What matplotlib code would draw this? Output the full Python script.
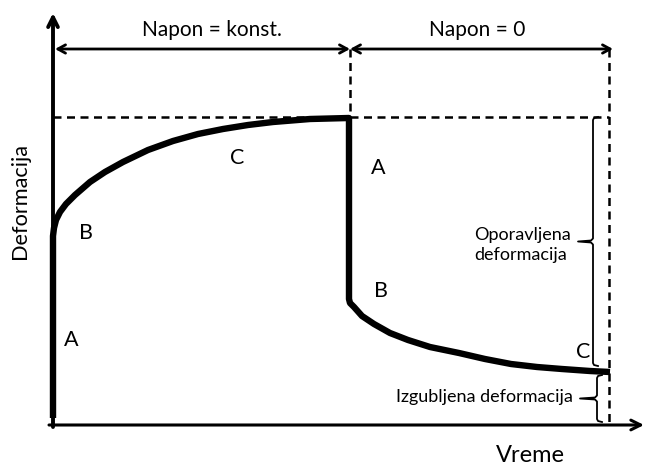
import matplotlib
matplotlib.use("Agg")
import matplotlib.pyplot as plt

plt.rcParams['font.family'] = ['Lato', 'DejaVu Sans']

# Creep phase (constant stress): time, deformation
creep_t = [0, 0, 1, 3, 7, 13, 22, 37, 52, 70, 95, 120, 145, 170, 195, 220, 257, 296]
creep_d = [7, 189, 197, 205, 213, 221, 230, 243, 253, 263, 275, 284, 291, 296, 300, 303, 306, 307]
# Recovery phase (zero stress)
rec_t = [296, 296, 297, 301, 309, 321, 337, 355, 377, 406, 432, 458, 484, 509, 537, 557]
rec_d = [307, 126, 122, 118, 109, 101, 92, 85, 78, 72, 66, 61, 58, 56, 54, 53]

t_unload = 296
t_end = 556
d_max = max(creep_d)
d_perm = rec_d[-1]

phase_labels = ["Napon = konst.", "Napon = 0"]
stage_labels = ["A", "B", "C"]
xlabel = "Vreme"
ylabel = "Deformacija"
recovered_label = "Oporavljena\ndeformacija"
lost_label = "Izgubljena deformacija"

fig = plt.figure(figsize=(6.45, 4.68), dpi=100)
ax = fig.add_axes([0, 0, 1, 1])
ax.set_xlim(-53, 592)
ax.set_ylim(-43, 425)
ax.axis('off')

# axes arrows
ax.annotate('', xy=(0, 412), xytext=(0, -2), annotation_clip=False,
            arrowprops=dict(arrowstyle='->,head_length=0.7,head_width=0.35', lw=2.8, color='black',
                            shrinkA=0, shrinkB=0))
ax.annotate('', xy=(591, 0), xytext=(-4, 0), annotation_clip=False,
            arrowprops=dict(arrowstyle='->,head_length=0.7,head_width=0.35', lw=2.2, color='black',
                            shrinkA=0, shrinkB=0))

# dimension arrows
y_dim = 376
ax.annotate('', xy=(2, y_dim), xytext=(t_unload + 1, y_dim), annotation_clip=False,
            arrowprops=dict(arrowstyle='<->,head_length=0.55,head_width=0.3', lw=2.0, color='black',
                            shrinkA=0, shrinkB=0))
ax.annotate('', xy=(t_unload + 1, y_dim), xytext=(t_end + 4, y_dim), annotation_clip=False,
            arrowprops=dict(arrowstyle='<->,head_length=0.55,head_width=0.3', lw=2.0, color='black',
                            shrinkA=0, shrinkB=0))

# dashed guide lines
dash = dict(color='black', lw=1.8, ls=(0, (3.2, 2.2)))
ax.plot([t_unload + 1, t_unload + 1], [y_dim, d_max + 1], **dash)
ax.plot([t_end, t_end], [y_dim, 0], **dash)
ax.plot([0, t_end], [d_max + 1, d_max + 1], **dash)

# curve
ax.plot(creep_t + rec_t, creep_d + rec_d, color='black', lw=4.6,
        solid_joinstyle='round', solid_capstyle='butt')

# braces
def brace(x, ytop, ybot, tip=15, hook=5):
    ymid = (ytop + ybot) / 2
    xs = [x + hook, x + 1, x, x, x - 2, x - tip, x - 2, x, x, x + 1, x + hook]
    ys = [ytop, ytop - 1, ytop - 3, ymid + 3, ymid + 1, ymid, ymid - 1, ymid - 3,
          ybot + 3, ybot + 1, ybot]
    ax.plot(xs, ys, color='black', lw=1.3, solid_joinstyle='round')

brace(540, d_max + 1, d_perm + 6)
brace(544, d_perm - 3, 3, tip=17)

fs_lab = 15.5
ax.text(18, 85, stage_labels[0], fontsize=fs_lab, ha='center', va='center')
ax.text(33, 192, stage_labels[1], fontsize=fs_lab, ha='center', va='center')
ax.text(184, 267, stage_labels[2], fontsize=fs_lab, ha='center', va='center')
ax.text(325, 257, stage_labels[0], fontsize=fs_lab, ha='center', va='center')
ax.text(328, 134, stage_labels[1], fontsize=fs_lab, ha='center', va='center')
ax.text(530, 73, stage_labels[2], fontsize=fs_lab, ha='center', va='center')

ax.text(159, 395, phase_labels[0], fontsize=15, ha='center', va='center')
ax.text(424, 395, phase_labels[1], fontsize=15, ha='center', va='center')

ax.text(-33, 224, ylabel, fontsize=15.7, rotation=90, ha='center', va='center')
ax.text(477, -31, xlabel, fontsize=17, ha='center', va='center')

ax.text(421, 180, recovered_label, fontsize=13, ha='left', va='center',
        multialignment='left', linespacing=1.25)
ax.text(520, 28, lost_label, fontsize=13, ha='right', va='center')

fig.savefig('out.png', dpi=100)
